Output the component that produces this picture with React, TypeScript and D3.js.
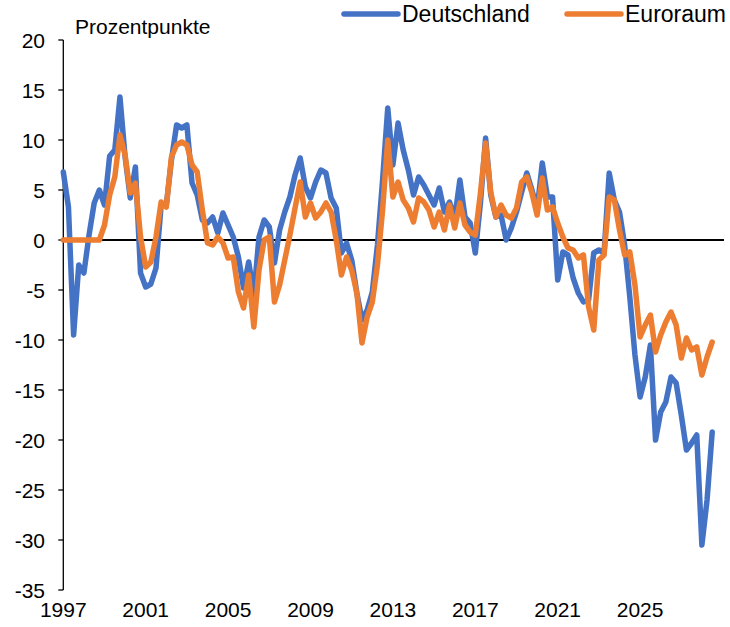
import React from "react";
import * as d3 from "d3";

const seriesNames = ["Deutschland", "Euroraum"];
const seriesColors = ["#4472C4", "#ED7D31"];

const deutschland = [
  6.8, 3.3, -9.5, -2.5, -3.3, 0.5, 3.7, 5.0, 3.5, 8.4,
  9.0, 14.3, 8.3, 4.2, 7.3, -3.3, -4.7, -4.4, -2.8, 3.5,
  3.5, 8.0, 11.5, 11.2, 11.5, 5.7, 4.5, 2.0, 1.7, 2.3,
  0.7, 2.7, 1.5, 0.3, -1.7, -4.8, -2.2, -5.5, 0.3, 2.0,
  1.3, -2.3, 1.0, 2.8, 4.3, 6.5, 8.2, 5.3, 4.2, 5.8,
  7.0, 6.7, 4.2, 3.2, -1.3, -0.3, -2.0, -5.3, -8.0, -7.0,
  -5.2, -0.5, 6.0, 13.2, 7.5, 11.7, 9.0, 7.0, 4.5, 6.3,
  5.5, 4.5, 3.5, 5.2, 2.8, 3.8, 2.2, 6.0, 2.3, 1.7,
  -1.3, 3.7, 10.2, 4.5, 2.3, 2.5, 0.0, 1.2, 2.8, 4.8,
  6.7, 5.0, 3.0, 7.7, 4.3, 4.3, -4.0, -1.2, -1.5, -3.8,
  -5.3, -6.2, -6.0, -1.3, -1.0, -1.3, 6.7, 4.0, 2.8, -0.5,
  -5.7, -11.5, -15.7, -13.7, -10.5, -20.0, -17.2, -16.2, -13.7, -14.3,
  -17.5, -21.0, -20.3, -19.5, -30.5, -26.0, -19.2,
];

const euroraum = [
  0, 0, 0, 0, 0, 0, 0, 0, 1.5, 4.5,
  6.3, 10.5, 8.5, 4.7, 5.7, 0.3, -2.7, -2.2, 0.3, 3.8,
  3.3, 8.3, 9.5, 9.8, 9.5, 7.5, 6.8, 3.0, -0.3, -0.5,
  0.3, -0.3, -1.8, -1.7, -5.2, -6.8, -3.5, -8.7, -3.0, 0.0,
  0.3, -6.2, -4.5, -2.0, 0.5, 3.2, 5.8, 2.3, 3.7, 2.2,
  2.8, 3.7, 2.8, 0.0, -3.5, -1.7, -3.0, -5.3, -10.3, -7.7,
  -6.2, -2.5, 3.0, 10.0, 4.3, 5.8, 4.0, 3.2, 1.8, 4.2,
  3.8, 3.0, 1.3, 2.8, 1.0, 3.5, 1.2, 3.7, 1.5, 0.8,
  0.5, 4.7, 9.7, 4.8, 2.3, 3.5, 2.5, 2.2, 3.2, 5.8,
  6.3, 4.7, 2.5, 6.2, 3.0, 3.3, 1.7, 0.3, -0.8, -1.0,
  -1.8, -1.5, -6.7, -9.0, -2.0, -1.5, 4.3, 4.0, 1.0, -1.5,
  -1.2, -4.5, -9.7, -8.5, -7.5, -11.2, -9.5, -8.2, -7.2, -8.5,
  -11.8, -9.8, -11.0, -10.7, -13.5, -11.7, -10.2,
];

const yTicks = [20, 15, 10, 5, 0, -5, -10, -15, -20, -25, -30, -35];
const xLabelIdx = [0, 16, 32, 48, 64, 80, 96, 112];
const xLabels = ["1997", "2001", "2005", "2009", "2013", "2017", "2021", "2025"];
const yTitle = "Prozentpunkte";

const FONT = "'Liberation Sans', Arial, sans-serif";

export default function App() {
  const x = d3.scaleLinear().domain([0, 128]).range([63.3, 722.5]);
  const y = d3.scaleLinear().domain([-35, 20]).range([590, 40]);
  const line = d3
    .line<number>()
    .x((_, i) => x(i))
    .y((d) => y(d));
  const allSeries = [deutschland, euroraum];
  const axisX = 63.3;

  return (
    <svg
      width={730}
      height={627}
      style={{ position: "absolute", left: 0, top: 0, background: "#fff" }}
      fontFamily={FONT}
    >
      <rect x={0} y={0} width={730} height={627} fill="#fff" />
      {/* y axis */}
      <line x1={axisX} x2={axisX} y1={y(20)} y2={y(-35)} stroke="#000" strokeWidth={1.3} />
      {yTicks.map((t) => (
        <g key={t}>
          <line x1={axisX - 5} x2={axisX} y1={y(t)} y2={y(t)} stroke="#000" strokeWidth={1.3} />
          <text x={45} y={y(t)} dy="0.36em" textAnchor="end" fontSize={21} fill="#000">
            {t}
          </text>
        </g>
      ))}
      {/* zero line */}
      <line x1={axisX} x2={724} y1={y(0)} y2={y(0)} stroke="#000" strokeWidth={2} />
      {/* x labels */}
      {xLabelIdx.map((idx, k) => (
        <text key={idx} x={x(idx)} y={617} textAnchor="middle" fontSize={21} fill="#000">
          {xLabels[k]}
        </text>
      ))}
      {/* series */}
      {allSeries.map((s, k) => (
        <path
          key={k}
          d={line(s) || ""}
          fill="none"
          stroke={seriesColors[k]}
          strokeWidth={5.5}
          strokeLinejoin="round"
          strokeLinecap="round"
        />
      ))}
      {/* title */}
      <text x={75} y={34} fontSize={21} fill="#000">
        {yTitle}
      </text>
      {/* legend */}
      {seriesNames.map((n, k) => {
        const lx = k === 0 ? 344 : 567;
        return (
          <g key={n}>
            <line x1={lx} x2={lx + 54} y1={14} y2={14} stroke={seriesColors[k]} strokeWidth={5.5} strokeLinecap="round" />
            <text x={lx + 58} y={22} fontSize={23} fill="#000">
              {n}
            </text>
          </g>
        );
      })}
    </svg>
  );
}
